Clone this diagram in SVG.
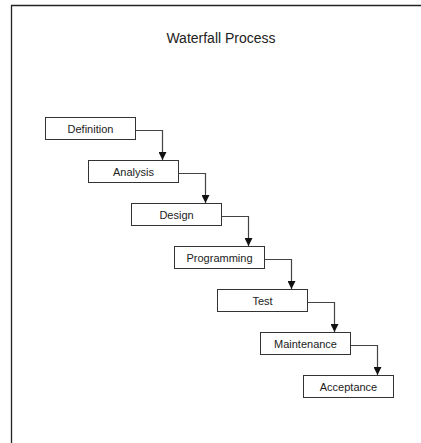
<svg xmlns="http://www.w3.org/2000/svg" width="421" height="443" viewBox="0 0 421 443">
<style>
.box{fill:#fff;stroke:#333;stroke-width:1}
.lbl{font-family:"Liberation Sans",Arial,sans-serif;font-size:11px;fill:#222;text-anchor:middle}
.conn{fill:none;stroke:#444;stroke-width:1.2}
.frame{stroke:#222;stroke-width:1.3;fill:none}
</style>
<defs>
<marker id="arr" viewBox="0 0 8 8" refX="8" refY="4" markerWidth="8" markerHeight="8" markerUnits="userSpaceOnUse" orient="auto">
<path d="M0,0 L8,4 L0,8 Z" fill="#111"/>
</marker>
</defs>
<rect width="421" height="443" fill="#fff"/>
<path class="frame" d="M11.5,443 V5.5 H421"/>
<text x="221" y="43" font-family="'Liberation Sans',Arial,sans-serif" font-size="14" fill="#222" text-anchor="middle">Waterfall Process</text>
<g id="connectors">
<path class="conn" d="M136,130.5 H162.5 V160" marker-end="url(#arr)"/>
<path class="conn" d="M179,173.5 H205.5 V203" marker-end="url(#arr)"/>
<path class="conn" d="M222,216.5 H248.5 V246" marker-end="url(#arr)"/>
<path class="conn" d="M265,259.5 H291.5 V289" marker-end="url(#arr)"/>
<path class="conn" d="M308,302.5 H334.5 V332" marker-end="url(#arr)"/>
<path class="conn" d="M351,345.5 H377.5 V375" marker-end="url(#arr)"/>
</g>
<g id="definition"><rect class="box" x="45.5" y="117.5" width="90" height="22"/><text class="lbl" x="90.5" y="132.5">Definition</text></g>
<g id="analysis"><rect class="box" x="88.5" y="160.5" width="90" height="22"/><text class="lbl" x="133.5" y="175.5">Analysis</text></g>
<g id="design"><rect class="box" x="131.5" y="203.5" width="90" height="22"/><text class="lbl" x="176.5" y="218.5">Design</text></g>
<g id="programming"><rect class="box" x="174.5" y="246.5" width="90" height="22"/><text class="lbl" x="219.5" y="261.5">Programming</text></g>
<g id="test"><rect class="box" x="217.5" y="289.5" width="90" height="22"/><text class="lbl" x="262.5" y="304.5">Test</text></g>
<g id="maintenance"><rect class="box" x="260.5" y="332.5" width="90" height="22"/><text class="lbl" x="305.5" y="347.5">Maintenance</text></g>
<g id="acceptance"><rect class="box" x="303.5" y="375.5" width="90" height="22"/><text class="lbl" x="348.5" y="390.5">Acceptance</text></g>
</svg>
